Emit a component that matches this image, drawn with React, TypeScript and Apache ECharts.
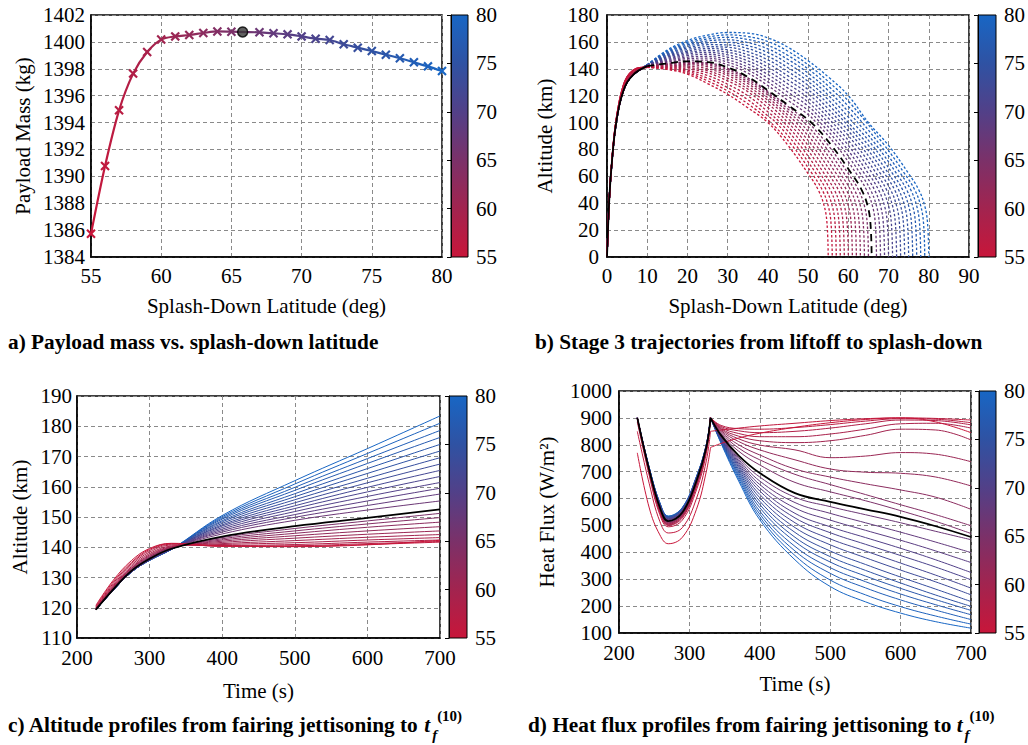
import React, { useEffect, useRef } from 'react';
import * as echarts from 'echarts';

// ---------- shared ----------
const LATS = [55, 56, 57, 58, 59, 60, 61, 62, 63, 64, 65, 67, 68, 69, 70, 71, 72, 73, 74, 75, 76, 77, 78, 79, 80];
const OPT_LAT = 65.8;
const CB_MIN = 55;
const CB_MAX = 80;

// ---------- panel a ----------
const A_MASS = [1385.73, 1390.77, 1394.91, 1397.64, 1399.25, 1400.17, 1400.41, 1400.51, 1400.66, 1400.78, 1400.76,
  1400.71, 1400.64, 1400.56, 1400.41, 1400.24, 1400.14, 1399.82, 1399.57, 1399.32, 1399.05, 1398.78, 1398.48, 1398.18, 1397.83];
const A_OPT_MASS = 1400.74;

// ---------- panel b ----------
const ASC_RED = [[0, 0], [0.3, 25], [0.7, 50], [1.2, 71], [2, 96], [3, 115], [4, 127], [5, 134], [6.5, 138.8], [8, 140.8]];
const ASC_MID = [[0, 0], [0.3, 25], [0.7, 50], [1.2, 70.5], [2, 95], [3, 113.5], [4, 125], [5, 132], [6.5, 137], [8, 140]];
const ASC_BLUE = [[0, 0], [0.3, 25], [0.7, 50], [1.2, 70], [2, 94], [3, 112], [4, 123], [5, 130], [6.5, 135.5], [8, 139]];

const B_ARCS = [
  [[10, 141], [15, 139.5], [20, 136], [25, 129], [30, 121], [35, 111], [40, 100], [45, 83], [50, 62], [52.5, 50], [54, 38], [54.7, 25], [55, 0]],
  [[10, 141.1], [15, 140], [20, 137], [25, 131], [30, 123.5], [35, 114], [40, 102], [46, 83], [51, 62], [53.5, 50], [55, 38], [55.7, 25], [56, 0]],
  [[10, 141.2], [15, 140.5], [20, 138], [25, 133], [30, 126], [35, 117], [40, 105], [42, 100], [47, 83], [52, 62], [54.5, 50], [56, 38], [56.7, 25], [57, 0]],
  [[10, 141.3], [15, 141], [20, 139], [25, 135], [30, 128.5], [35, 120], [40, 108], [43, 100], [48, 83], [53, 62], [55.5, 50], [57, 38], [57.7, 25], [58, 0]],
  [[10, 141.4], [15, 141.5], [20, 140], [25, 137], [30, 131], [35, 123], [40, 111], [44, 100], [49, 83], [54, 62], [56.5, 50], [58, 38], [58.7, 25], [59, 0]],
  [[10, 141.5], [15, 142], [20, 141], [25, 138.5], [30, 133], [35, 125], [40, 114], [45, 100], [50, 83], [55, 62], [57.5, 50], [59, 38], [59.7, 25], [60, 0]],
  [[10, 141.6], [15, 142.4], [20, 142], [25, 140], [30, 135], [35, 127], [40, 116.5], [45, 103], [51, 83], [56, 62], [58.5, 50], [60, 38], [60.7, 25], [61, 0]],
  [[10, 141.7], [15, 142.8], [20, 143], [25, 141.5], [30, 136.5], [35, 129], [40, 118.5], [45, 105.5], [47, 100], [52, 83], [57, 62], [59.5, 50], [61, 38], [61.7, 25], [62, 0]],
  [[10, 141.8], [15, 143.2], [20, 143.8], [25, 142.8], [30, 138], [35, 130.5], [40, 120.5], [45, 108], [48, 100], [53, 83], [58, 62], [60.5, 50], [62, 38], [62.7, 25], [63, 0]],
  [[10, 141.9], [15, 143.5], [20, 144.5], [25, 143.8], [30, 139.3], [35, 132], [40, 122], [45, 110], [49, 100], [54, 83], [59, 62], [61.5, 50], [63, 38], [63.7, 25], [64, 0]],
  [[10, 142], [15, 143.8], [20, 145], [25, 144.5], [30, 140.3], [35, 133.2], [40, 123.2], [45, 112], [50, 100], [55, 83], [60, 62], [62.5, 50], [64, 38], [64.7, 25], [65, 0]],
  [[10, 142.1], [15, 144.8], [20, 146.5], [25, 146.5], [30, 143], [35, 136.8], [40, 127.5], [45, 116.5], [50, 106], [52, 100], [57, 83], [62, 62], [64.5, 50], [66, 38], [66.7, 25], [67, 0]],
  [[10, 142.2], [15, 145.5], [20, 147.6], [25, 147.9], [30, 144.9], [35, 139.1], [40, 130.2], [45, 119.5], [50, 109.1], [53, 100], [58, 83], [63, 62], [65.5, 50], [67, 38], [67.7, 25], [68, 0]],
  [[10, 142.2], [15, 146.2], [20, 148.7], [25, 149.3], [30, 146.7], [35, 141.3], [40, 133], [45, 122.6], [50, 112.2], [54, 100], [59, 83], [64, 62], [66.5, 50], [68, 38], [68.7, 25], [69, 0]],
  [[10, 142.3], [15, 146.9], [20, 149.9], [25, 150.8], [30, 148.6], [35, 143.6], [40, 135.7], [45, 125.6], [50, 115.2], [55, 100], [60, 83], [65, 62], [67.5, 50], [69, 38], [69.7, 25], [70, 0]],
  [[10, 142.4], [15, 147.6], [20, 151], [25, 152.2], [30, 150.4], [35, 145.9], [40, 138.4], [45, 128.7], [50, 118.3], [55, 103.4], [61, 83], [66, 62], [68.5, 50], [70, 38], [70.7, 25], [71, 0]],
  [[10, 142.5], [15, 148.4], [20, 152.1], [25, 153.6], [30, 152.3], [35, 148.2], [40, 141.2], [45, 131.7], [50, 121.4], [55, 106.8], [62, 83], [67, 62], [69.5, 50], [71, 38], [71.7, 25], [72, 0]],
  [[10, 142.5], [15, 149.1], [20, 153.2], [25, 155], [30, 154.1], [35, 150.4], [40, 143.9], [45, 134.7], [50, 124.5], [55, 110.2], [63, 83], [68, 62], [70.5, 50], [72, 38], [72.7, 25], [73, 0]],
  [[10, 142.6], [15, 149.8], [20, 154.3], [25, 156.4], [30, 156], [35, 152.7], [40, 146.6], [45, 137.8], [50, 127.6], [55, 113.6], [64, 83], [69, 62], [71.5, 50], [73, 38], [73.7, 25], [74, 0]],
  [[10, 142.7], [15, 150.5], [20, 155.5], [25, 157.9], [30, 157.8], [35, 155], [40, 149.3], [45, 140.8], [50, 130.6], [55, 117], [60, 100], [65, 83], [70, 62], [72.5, 50], [74, 38], [74.7, 25], [75, 0]],
  [[10, 142.7], [15, 151.2], [20, 156.6], [25, 159.3], [30, 159.7], [35, 157.2], [40, 152.1], [45, 143.9], [50, 133.7], [55, 120.4], [60, 104], [66, 83], [71, 62], [73.5, 50], [75, 38], [75.7, 25], [76, 0]],
  [[10, 142.8], [15, 151.9], [20, 157.7], [25, 160.7], [30, 161.5], [35, 159.5], [40, 154.8], [45, 146.9], [50, 136.8], [55, 123.8], [60, 108], [67, 83], [72, 62], [74.5, 50], [76, 38], [76.7, 25], [77, 0]],
  [[10, 142.9], [15, 152.6], [20, 158.8], [25, 162.1], [30, 163.4], [35, 161.8], [40, 157.5], [45, 149.9], [50, 139.9], [55, 127.2], [60, 112], [68, 83], [73, 62], [75.5, 50], [77, 38], [77.7, 25], [78, 0]],
  [[10, 142.9], [15, 153.3], [20, 159.9], [25, 163.5], [30, 165.2], [35, 164], [40, 160.3], [45, 153], [50, 143], [55, 130.6], [60, 116], [69, 83], [74, 62], [76.5, 50], [78, 38], [78.7, 25], [79, 0]],
  [[10, 143], [15, 154], [20, 161], [25, 165], [30, 167], [35, 166.5], [40, 163], [45, 156], [50, 146], [55, 134], [60, 120], [65, 100], [70, 83], [75, 62], [77.5, 50], [79, 38], [79.7, 25], [80, 0]],
];
const B_OPT = [[10, 142], [15, 144], [20, 145.5], [25, 145], [30, 141], [35, 134], [40, 124], [45, 113], [50.8, 100], [55.8, 83], [60.8, 62], [63.3, 50], [64.8, 38], [65.5, 25], [65.8, 0]];

// ---------- panel c ----------
const C_TIME = [226, 250, 275, 300, 330, 400, 500, 600, 700];
const C_ALT = [
  [120.8, 129.1, 135.6, 139.6, 141.3, 140.4, 140.2, 140.8, 142.3],
  [120.5, 128.6, 135.0, 139.3, 141.2, 140.3, 140.3, 140.9, 141.7],
  [120.2, 128.1, 134.6, 138.9, 141.0, 140.4, 140.5, 141.2, 141.9],
  [120.0, 127.6, 134.1, 138.4, 140.7, 140.6, 140.9, 141.7, 142.4],
  [119.8, 127.2, 133.6, 137.9, 140.4, 140.9, 141.5, 142.4, 143.2],
  [119.7, 126.9, 133.2, 137.5, 140.2, 141.2, 142.2, 143.3, 144.2],
  [119.6, 126.7, 133.0, 137.2, 140.0, 141.6, 143.0, 144.3, 145.4],
  [119.6, 126.5, 132.8, 136.9, 139.9, 142.0, 143.8, 145.4, 146.8],
  [119.5, 126.4, 132.6, 136.7, 139.8, 142.4, 144.6, 146.6, 148.3],
  [119.5, 126.3, 132.4, 136.5, 139.7, 142.8, 145.4, 147.7, 149.8],
  [119.5, 126.2, 132.3, 136.4, 139.6, 143.2, 146.2, 148.7, 151.2],
  [119.4, 126.0, 132.1, 136.1, 139.5, 144.4, 148.9, 152.3, 155.3],
  [119.4, 126.0, 132.0, 136.0, 139.5, 145.0, 149.9, 153.8, 157.6],
  [119.4, 126.0, 132.0, 136.0, 139.4, 145.5, 150.8, 155.3, 159.5],
  [119.3, 125.9, 131.9, 135.9, 139.4, 146.0, 151.8, 156.8, 161.4],
  [119.3, 125.9, 131.9, 135.9, 139.4, 146.5, 152.8, 158.3, 163.4],
  [119.3, 125.9, 131.9, 135.8, 139.4, 147.0, 153.7, 159.8, 165.4],
  [119.3, 125.9, 131.9, 135.8, 139.3, 147.4, 154.7, 161.3, 167.5],
  [119.3, 125.8, 131.8, 135.8, 139.3, 147.9, 155.7, 162.8, 169.6],
  [119.3, 125.8, 131.8, 135.7, 139.3, 148.4, 156.7, 164.4, 171.8],
  [119.3, 125.8, 131.8, 135.7, 139.3, 148.8, 157.7, 166.0, 174.0],
  [119.3, 125.8, 131.8, 135.7, 139.3, 149.3, 158.8, 167.7, 176.3],
  [119.3, 125.8, 131.8, 135.7, 139.3, 149.7, 159.8, 169.3, 178.6],
  [119.3, 125.8, 131.8, 135.7, 139.3, 150.1, 160.9, 171.0, 181.0],
  [119.3, 125.8, 131.8, 135.7, 139.3, 150.5, 162.0, 172.6, 183.4],
];
const C_OPT = [119.4, 126.1, 132.2, 136.2, 139.5, 143.5, 147.0, 149.7, 152.5];

// ---------- panel d ----------
const D_TIME_PRE = [226, 243, 258, 270, 290, 310, 324, 330];
const D_PRE = [
  [770, 565, 465, 432, 456, 560, 700, 790],
  [850, 655, 515, 472, 492, 600, 740, 850],
  [885, 685, 540, 495, 520, 632, 768, 900],
  [895, 693, 548, 500, 528, 643, 777, 900],
  [898, 696, 551, 502, 532, 648, 780, 900],
  [900, 698, 554, 504, 535, 652, 783, 900],
  [900, 700, 557, 506, 538, 655, 785, 900],
  [900, 701, 559, 508, 540, 657, 786, 900],
  [900, 702, 561, 510, 542, 659, 787, 900],
  [900, 703, 563, 512, 544, 661, 788, 900],
  [900, 704, 565, 514, 546, 663, 789, 900],
  [900, 705, 568, 518, 550, 667, 791, 900],
  [900, 706, 570, 519, 551, 668, 792, 900],
  [900, 707, 571, 521, 553, 669, 793, 900],
  [900, 707, 572, 522, 554, 671, 794, 900],
  [900, 708, 574, 524, 556, 672, 795, 900],
  [900, 709, 575, 525, 557, 673, 796, 900],
  [900, 710, 577, 527, 559, 675, 797, 900],
  [900, 711, 578, 528, 560, 676, 797, 900],
  [900, 712, 580, 530, 562, 677, 798, 900],
  [900, 712, 581, 531, 563, 678, 799, 900],
  [900, 713, 582, 532, 564, 679, 799, 900],
  [900, 714, 583, 533, 565, 680, 800, 900],
  [900, 714, 584, 534, 566, 681, 800, 900],
  [900, 715, 585, 535, 567, 682, 801, 900],
];
const D_PRE_OPT = [900, 705, 567, 516, 548, 665, 790, 900];
const D_TIME_POST = [330, 345, 370, 400, 450, 500, 550, 600, 650, 700];
const D_POST = [
  [790, 805, 825, 843, 865, 882, 894, 900, 885, 845],
  [850, 855, 862, 870, 880, 890, 897, 900, 898, 892],
  [900, 872, 860, 858, 864, 875, 888, 897, 895, 882],
  [900, 868, 852, 845, 850, 862, 878, 892, 890, 874],
  [900, 864, 842, 830, 830, 840, 858, 878, 880, 862],
  [900, 860, 832, 815, 808, 815, 835, 858, 855, 818],
  [900, 857, 822, 799, 781, 752, 758, 771, 765, 737],
  [900, 853, 812, 781, 744, 710, 698, 694, 680, 647],
  [900, 849, 800, 762, 710, 680, 655, 632, 605, 560],
  [900, 845, 788, 744, 690, 652, 615, 577, 540, 499],
  [900, 840, 776, 725, 660, 625, 592, 555, 515, 470],
  [900, 832, 752, 680, 605, 570, 540, 510, 478, 447],
  [900, 830, 746, 665, 585, 545, 510, 475, 438, 399],
  [900, 828, 740, 652, 565, 520, 482, 445, 405, 362],
  [900, 826, 734, 640, 545, 495, 455, 415, 372, 325],
  [900, 824, 728, 628, 528, 473, 430, 388, 345, 298],
  [900, 822, 722, 615, 510, 450, 405, 360, 315, 267],
  [900, 820, 716, 603, 492, 428, 380, 334, 290, 242],
  [900, 818, 709, 590, 474, 405, 355, 308, 263, 217],
  [900, 816, 702, 578, 456, 384, 333, 286, 241, 199],
  [900, 814, 695, 566, 440, 364, 312, 266, 224, 184],
  [900, 812, 688, 553, 422, 343, 291, 245, 205, 168],
  [900, 810, 681, 542, 405, 322, 268, 223, 185, 150],
  [900, 808, 673, 531, 388, 297, 242, 198, 163, 133],
  [900, 805, 665, 521, 372, 273, 216, 174, 142, 118],
];
const D_POST_OPT = [900, 835, 760, 695, 620, 588, 560, 532, 497, 457];

// ---------- styling ----------
const SERIF = "'Liberation Serif', 'Times New Roman', Times, serif";
const CMAP: [number, number[]][] = [
  [55, [200, 22, 58]],
  [60, [162, 36, 79]],
  [65, [123, 49, 105]],
  [70, [82, 64, 136]],
  [75, [47, 82, 163]],
  [80, [24, 102, 196]],
];
function colorAt(v: number): string {
  for (let i = 0; i < CMAP.length - 1; i++) {
    const [a, ca] = CMAP[i];
    const [b, cb] = CMAP[i + 1];
    if (v <= b || i === CMAP.length - 2) {
      const t = Math.max(0, Math.min(1, (v - a) / (b - a)));
      const c = ca.map((x, k) => Math.round(x + (cb[k] - x) * t));
      return `rgb(${c[0]},${c[1]},${c[2]})`;
    }
  }
  return '#000';
}
const CMAP_HEX = CMAP.map(([v]) => colorAt(v));

const plain = (v: number) => `${v}`;
const labelStyle = { color: '#000', fontSize: 21, fontFamily: SERIF };
const splitLine = { show: true, lineStyle: { color: '#8a8a8a', type: [4, 3] as any, width: 1 } };
const CROSS = 'path://M1.6,0 L5,3.4 L8.4,0 L10,1.6 L6.6,5 L10,8.4 L8.4,10 L5,6.6 L1.6,10 L0,8.4 L3.4,5 L0,1.6 Z';

function xAx(gridIndex: number, min: number, max: number, interval: number, name: string, nameGap: number, margin: number) {
  return {
    type: 'value', gridIndex, min, max, interval, name, nameLocation: 'middle', nameGap,
    nameTextStyle: { ...labelStyle },
    axisLine: { show: true, onZero: false, lineStyle: { color: '#000', width: 1.5 } },
    axisTick: { show: false },
    axisLabel: { ...labelStyle, margin, formatter: plain },
    splitLine,
  };
}
function yAx(gridIndex: number, min: number, max: number, interval: number, name: string, nameGap: number, margin: number) {
  return {
    type: 'value', gridIndex, min, max, interval, name, nameLocation: 'middle', nameGap,
    nameTextStyle: { ...labelStyle },
    axisLine: { show: true, onZero: false, lineStyle: { color: '#000', width: 1.5 } },
    axisTick: { show: false },
    axisLabel: { ...labelStyle, margin, formatter: plain },
    splitLine,
  };
}
function cbX(gridIndex: number) {
  return { type: 'value', gridIndex, min: 0, max: 1, show: false };
}
function cbY(gridIndex: number) {
  return {
    type: 'value', gridIndex, position: 'right', min: CB_MIN, max: CB_MAX, interval: 5, z: 5,
    axisLine: { show: true, lineStyle: { color: '#000', width: 1 } },
    axisTick: { show: true, inside: true, length: 4, lineStyle: { color: '#000', width: 1 } },
    axisLabel: { ...labelStyle, margin: 8, formatter: plain },
    splitLine: { show: false },
  };
}

function buildOption() {
  const series: any[] = [];

  // panel a (index 0 used by visualMap)
  series.push({
    type: 'line', xAxisIndex: 0, yAxisIndex: 0,
    data: LATS.map((l, i) => [l, A_MASS[i]]),
    smooth: 0.3, symbol: CROSS, symbolSize: 9.5, showSymbol: true,
    lineStyle: { width: 2.2 }, z: 3, silent: true,
  });
  series.push({
    type: 'scatter', xAxisIndex: 0, yAxisIndex: 0,
    data: [[OPT_LAT, A_OPT_MASS]], symbol: 'circle', symbolSize: 10,
    itemStyle: { color: '#3a3a3a', borderColor: '#000', borderWidth: 1.5 }, z: 5, silent: true,
  });

  // panel b
  const order = LATS.map((_, i) => LATS.length - 1 - i);
  order.forEach((i) => {
    series.push({
      type: 'line', xAxisIndex: 1, yAxisIndex: 1, data: B_ARCS[i], smooth: 0.4,
      symbol: 'none', lineStyle: { color: colorAt(LATS[i]), width: 1.3, type: [2.5, 2] }, z: 2, silent: true,
    });
  });
  series.push({
    type: 'line', xAxisIndex: 1, yAxisIndex: 1, data: B_OPT, smooth: 0.4,
    symbol: 'none', lineStyle: { color: '#000', width: 1.8, type: [7, 5] }, z: 4, silent: true,
  });
  order.forEach((i) => {
    const L = LATS[i];
    const asc = L <= 57 ? ASC_RED : L <= 62 ? ASC_MID : ASC_BLUE;
    series.push({
      type: 'line', xAxisIndex: 1, yAxisIndex: 1, data: asc.concat([B_ARCS[i][0]]), smooth: 0.4,
      symbol: 'none', lineStyle: { color: colorAt(L), width: 1.4 }, z: 3, silent: true,
    });
  });
  series.push({
    type: 'line', xAxisIndex: 1, yAxisIndex: 1, data: ASC_BLUE.concat([B_OPT[0]]), smooth: 0.4,
    symbol: 'none', lineStyle: { color: '#000', width: 1.8 }, z: 4, silent: true,
  });

  // panel c
  order.forEach((i) => {
    series.push({
      type: 'line', xAxisIndex: 2, yAxisIndex: 2, data: C_TIME.map((t, k) => [t, C_ALT[i][k]]), smooth: 0.4,
      symbol: 'none', lineStyle: { color: colorAt(LATS[i]), width: 1 }, z: 2, silent: true,
    });
  });
  series.push({
    type: 'line', xAxisIndex: 2, yAxisIndex: 2, data: C_TIME.map((t, k) => [t, C_OPT[k]]), smooth: 0.4,
    symbol: 'none', lineStyle: { color: '#000', width: 1.8 }, z: 4, silent: true,
  });

  // panel d
  order.forEach((i) => {
    const col = colorAt(LATS[i]);
    series.push({
      type: 'line', xAxisIndex: 3, yAxisIndex: 3, data: D_TIME_PRE.map((t, k) => [t, D_PRE[i][k]]), smooth: 0.4,
      symbol: 'none', lineStyle: { color: col, width: 1 }, z: 2, silent: true,
    });
    series.push({
      type: 'line', xAxisIndex: 3, yAxisIndex: 3, data: D_TIME_POST.map((t, k) => [t, D_POST[i][k]]), smooth: 0.4,
      symbol: 'none', lineStyle: { color: col, width: 1 }, z: 2, silent: true,
    });
  });
  series.push({
    type: 'line', xAxisIndex: 3, yAxisIndex: 3, data: D_TIME_PRE.map((t, k) => [t, D_PRE_OPT[k]]), smooth: 0.4,
    symbol: 'none', lineStyle: { color: '#000', width: 1.8 }, z: 4, silent: true,
  });
  series.push({
    type: 'line', xAxisIndex: 3, yAxisIndex: 3, data: D_TIME_POST.map((t, k) => [t, D_POST_OPT[k]]), smooth: 0.4,
    symbol: 'none', lineStyle: { color: '#000', width: 1.8 }, z: 4, silent: true,
  });

  // colorbars
  const gradStops = CMAP.slice().reverse().map(([v], k, arr) => ({ offset: k / (arr.length - 1), color: colorAt(v) }));
  [4, 5, 6, 7].forEach((g) => {
    series.push({
      type: 'custom', xAxisIndex: g, yAxisIndex: g, silent: true, z: 1,
      data: [[0, CB_MIN, CB_MAX]],
      renderItem: (params: any, api: any) => {
        const cs = params.coordSys;
        const top = api.coord([0, api.value(2)]);
        const bot = api.coord([0, api.value(1)]);
        return {
          type: 'rect',
          shape: { x: cs.x, y: top[1], width: cs.width, height: bot[1] - top[1] },
          style: { fill: new echarts.graphic.LinearGradient(0, 0, 0, 1, gradStops), stroke: '#000', lineWidth: 1 },
        };
      },
    });
  });

  const CAP = 21.3;
  const mainGrid = { show: true, borderColor: '#000', borderWidth: 1.5, backgroundColor: 'transparent' };
  const captionRich = (prefix: string) => ({
    text: `{m|${prefix}}{t|t}{sub|f}{sup|(10)}`,
    verticalAlign: 'middle',
    fill: '#000',
    rich: {
      m: { fontSize: CAP, fontWeight: 'bold', fontFamily: SERIF, lineHeight: 34, verticalAlign: 'middle', fill: '#000' },
      t: { fontSize: CAP, fontWeight: 'bold', fontStyle: 'italic', fontFamily: SERIF, lineHeight: 34, verticalAlign: 'middle', padding: [0, 2, 0, 0], fill: '#000' },
      sub: { fontSize: 15, fontWeight: 'bold', fontStyle: 'italic', fontFamily: SERIF, lineHeight: 15, verticalAlign: 'bottom', fill: '#000' },
      sup: { fontSize: 15, fontWeight: 'bold', fontFamily: SERIF, lineHeight: 15, verticalAlign: 'top', fill: '#000' },
    },
  });
  const capStyle = (text: string) => ({ text, fontSize: CAP, fontWeight: 'bold', fontFamily: SERIF, fill: '#000', verticalAlign: 'middle' });

  return {
    animation: false,
    backgroundColor: '#fff',
    grid: [
      { left: 91, top: 15, width: 351, height: 242, ...mainGrid },
      { left: 607, top: 15, width: 362, height: 242, ...mainGrid },
      { left: 77, top: 396, width: 363, height: 242, ...mainGrid },
      { left: 619, top: 391, width: 352, height: 242, ...mainGrid },
      { left: 451, top: 15, width: 17, height: 242 },
      { left: 978, top: 15, width: 18, height: 242 },
      { left: 449, top: 396, width: 18, height: 242 },
      { left: 979, top: 391, width: 18, height: 242 },
    ],
    xAxis: [
      xAx(0, 55, 80, 5, 'Splash-Down Latitude (deg)', 38, 8),
      xAx(1, 0, 90, 10, 'Splash-Down Latitude (deg)', 38, 8),
      xAx(2, 200, 700, 100, 'Time (s)', 42, 9),
      xAx(3, 200, 700, 100, 'Time (s)', 40, 9),
      cbX(4), cbX(5), cbX(6), cbX(7),
    ],
    yAxis: [
      yAx(0, 1384, 1402, 2, 'Payload Mass (kg)', 58, 6),
      yAx(1, 0, 180, 20, 'Altitude (km)', 52, 8),
      yAx(2, 110, 190, 10, 'Altitude (km)', 47, 5),
      yAx(3, 100, 1000, 100, 'Heat Flux (W/m²)', 62, 7),
      cbY(4), cbY(5), cbY(6), cbY(7),
    ],
    visualMap: [{
      type: 'continuous', show: false, seriesIndex: 0, dimension: 0, min: CB_MIN, max: CB_MAX,
      inRange: { color: CMAP_HEX },
    }],
    graphic: {
      elements: [
        { type: 'text', x: 8, y: 342, style: capStyle('a) Payload mass vs. splash-down latitude') },
        { type: 'text', x: 535, y: 342, style: capStyle('b) Stage 3 trajectories from liftoff to splash-down') },
        { type: 'text', x: 8, y: 725, style: captionRich('c) Altitude profiles from fairing jettisoning to ') },
        { type: 'text', x: 528, y: 725, style: captionRich('d) Heat flux profiles from fairing jettisoning to ') },
      ],
    },
    series,
  };
}

export default function App() {
  const ref = useRef<HTMLDivElement>(null);
  useEffect(() => {
    document.body.style.margin = '0';
    const chart = echarts.init(ref.current as HTMLDivElement, undefined, { renderer: 'svg' });
    chart.setOption(buildOption() as any);
    return () => chart.dispose();
  }, []);
  return <div ref={ref} style={{ width: 1028, height: 745 }} />;
}
